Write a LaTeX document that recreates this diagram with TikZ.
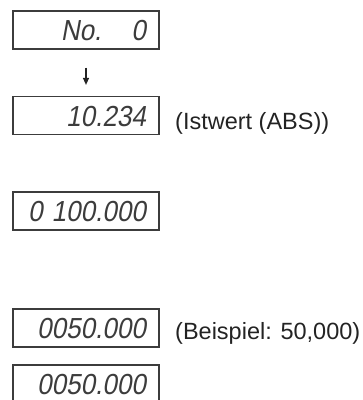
\documentclass[tikz,border=0pt]{standalone}
\usepackage{fontspec}
\setmainfont{Liberation Sans}
\newfontfamily\segfont[FakeStretch=0.9,FakeSlant=0.18]{Liberation Sans}
\usetikzlibrary{positioning,arrows.meta}
\definecolor{dispgray}{RGB}{60,60,60}
\definecolor{labelink}{RGB}{35,35,35}

\begin{document}
\begin{tikzpicture}[x=1pt,y=-1pt,
  disp/.style={draw=dispgray,line width=1.2pt,minimum width=146pt,minimum height=38pt,
               inner xsep=13pt,inner ysep=0pt,text width=120pt,align=right,
               font=\segfont\fontsize{29}{29}\selectfont,text=dispgray,
               text height=21pt,text depth=0pt},
  lbl/.style={anchor=base west,inner sep=0pt,font=\fontsize{23.5}{26}\selectfont,text=labelink},
  arr/.style={-{Triangle[length=7pt,width=6pt]},line width=1.2pt,color=labelink}]
  \useasboundingbox (0,0) rectangle (363,400);
  \node[disp] (nr)     at (86,30)    {No.\hspace{30pt}0};
  \node[disp] (ist)    at (86,115.5) {10.234};
  \node[disp] (preset) at (86,211)   {0\hspace{9pt}100.000};
  \node[disp] (input)  at (86,328)   {0050.000};
  \node[disp] (done)   at (86,384)   {0050.000};
  \node[lbl] (istlbl)  at (175,129)  {(Istwert (ABS))};
  \node[lbl] (exlbl)   at (175,339)  {(Beispiel: 50,000)};
  \draw[arr,shorten <=18pt,shorten >=11pt] (nr) -- (ist);
\end{tikzpicture}
\end{document}
